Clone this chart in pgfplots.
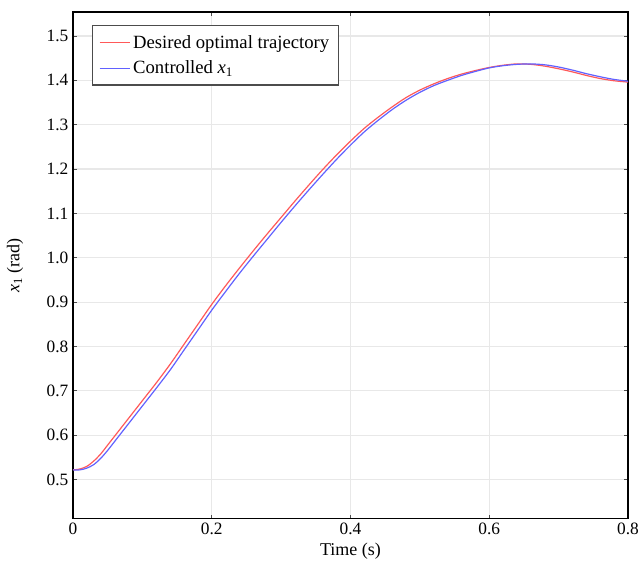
\documentclass[border=0pt]{standalone}
\usepackage{pgfplots}
\pgfplotsset{compat=1.18}
\usepackage{fontspec}
\setmainfont{Liberation Serif}
\usetikzlibrary{calc}
\definecolor{myred}{rgb}{1,0.35,0.35}
\definecolor{myblue}{rgb}{0.38,0.38,1}
\begin{document}
\begin{tikzpicture}
\begin{axis}[
  scale only axis,
  width=416.25pt, height=380pt,
  xmin=0, xmax=0.8, ymin=0.412, ymax=1.554,
  xtick={0,0.2,0.4,0.6,0.8},
  ytick={0.5,0.6,...,1.51},
  yticklabel style={/pgf/number format/fixed,/pgf/number format/fixed zerofill,/pgf/number format/precision=1},
  xticklabel style={/pgf/number format/fixed},
  /pgf/number format/assume math mode=true,
  tick label style={font=\fontsize{13}{15}\selectfont},
  label style={font=\fontsize{13.5}{16}\selectfont},
  tick align=inside,
  major tick length=3pt,
  tick style={black!70, line width=0.6pt},
  grid=major,
  major grid style={gray!18, line width=0.9pt},
  axis line style={black, line width=1.1pt},
  xlabel={Time (s)},
  ylabel={\textit{x}\textsubscript{1} (rad)},
  xlabel style={at={(axis description cs:0.5,-0.0651)}, anchor=center},
  ylabel style={at={(axis description cs:-0.1045,0.5)}, anchor=center, rotate=0},
  legend style={at={(0.0342,0.974)}, anchor=north west, draw=black!70, line width=0.9pt, font=\fontsize{14}{17}\selectfont, inner xsep=5pt, inner ysep=5pt, row sep=4pt, cells={anchor=west}},
  legend cell align=left,
  legend image code/.code={\draw[#1, line width=0.7pt] (0cm,0cm) -- (0.8cm,0cm);},
]
\addplot[draw=myred, line width=0.9pt, smooth] coordinates {
(0.000,0.522) (0.010,0.524) (0.020,0.530) (0.030,0.542) (0.040,0.558) (0.050,0.578)
(0.060,0.598) (0.070,0.618) (0.080,0.638) (0.090,0.658) (0.100,0.678) (0.110,0.698)
(0.120,0.718) (0.140,0.760) (0.160,0.805) (0.180,0.850) (0.200,0.895) (0.220,0.937)
(0.240,0.977) (0.260,1.016) (0.280,1.054) (0.300,1.091) (0.320,1.128) (0.340,1.164)
(0.360,1.199) (0.380,1.232) (0.400,1.263) (0.420,1.292) (0.440,1.317) (0.460,1.340)
(0.480,1.361) (0.500,1.378) (0.520,1.392) (0.540,1.404) (0.560,1.414) (0.580,1.422)
(0.600,1.429) (0.620,1.434) (0.640,1.437) (0.660,1.436) (0.680,1.432) (0.700,1.426)
(0.720,1.419) (0.740,1.411) (0.760,1.404) (0.780,1.399) (0.800,1.396)
};
\addlegendentry{Desired optimal trajectory}
\addplot[draw=myblue, line width=0.9pt, smooth] coordinates {
(0.000,0.522) (0.010,0.522) (0.020,0.526) (0.030,0.534) (0.040,0.548) (0.050,0.566)
(0.060,0.586) (0.070,0.606) (0.080,0.626) (0.090,0.646) (0.100,0.666) (0.110,0.686)
(0.120,0.706) (0.140,0.747) (0.160,0.792) (0.180,0.837) (0.200,0.882) (0.220,0.924)
(0.240,0.965) (0.260,1.004) (0.280,1.042) (0.300,1.080) (0.320,1.117) (0.340,1.153)
(0.360,1.188) (0.380,1.222) (0.400,1.254) (0.420,1.284) (0.440,1.310) (0.460,1.334)
(0.480,1.355) (0.500,1.373) (0.520,1.388) (0.540,1.400) (0.560,1.411) (0.580,1.420)
(0.600,1.428) (0.620,1.433) (0.640,1.436) (0.660,1.437) (0.680,1.435) (0.700,1.430)
(0.720,1.423) (0.740,1.415) (0.760,1.408) (0.780,1.402) (0.800,1.398)
};
\addlegendentry{Controlled \textit{x}\textsubscript{1}}
\end{axis}
\pgfresetboundingbox
\useasboundingbox ($(current axis.south west)+(-54.75pt,-34.5pt)$) rectangle ($(current axis.north east)+(9.75pt,9pt)$);
\end{tikzpicture}
\end{document}
